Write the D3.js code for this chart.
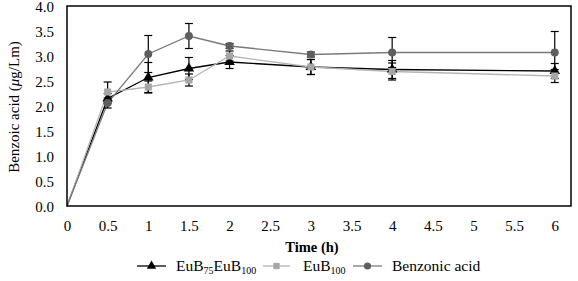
<!DOCTYPE html>
<html>
<head>
<meta charset="utf-8">
<script src="https://cdn.jsdelivr.net/npm/d3@7"></script>
<style>
  body { margin: 0; background: #fff; }
</style>
</head>
<body>
<div id="chart"></div>
<script>
var times = [0, 0.5, 1, 1.5, 2, 3, 4, 6];
var eubMix = [0, 2.15, 2.57, 2.75, 2.88, 2.78, 2.73, 2.7];
var eubMixErr = [0, 0.1, 0.3, 0.22, 0.13, 0.15, 0.18, 0.15];
var eub100 = [0, 2.28, 2.38, 2.52, 3.0, 2.78, 2.69, 2.6];
var eub100Err = [0, 0.2, 0.12, 0.12, 0.1, 0.15, 0.17, 0.13];
var benzoic = [0, 2.06, 3.04, 3.4, 3.2, 3.03, 3.07, 3.07];
var benzoicErr = [0, 0.1, 0.37, 0.25, 0.05, 0.05, 0.3, 0.42];
var xTicks = [0, 0.5, 1, 1.5, 2, 2.5, 3, 3.5, 4, 4.5, 5, 5.5, 6];
var yTicks = [0, 0.5, 1, 1.5, 2, 2.5, 3, 3.5, 4];

var FONT = "'Liberation Serif', 'Times New Roman', serif";

function init() {
    var margin = {top: 6, right: 7, bottom: 75, left: 67},
        w = 578 - margin.left - margin.right,
        h = 281 - margin.top - margin.bottom;

    var svg = d3.select("#chart")
        .append("svg")
        .attr("width", 578)
        .attr("height", 281)
        .attr("font-family", FONT);

    var g = svg.append("g")
        .attr("transform", `translate(${margin.left}, ${margin.top})`);

    var xScale = d3.scaleLinear().domain([0, 6.2]).range([0, w]);
    var yScale = d3.scaleLinear().domain([0, 4]).range([h, 0]);

    var series = [
        {name: "mix", vals: eubMix, err: eubMixErr, line: "#000", fill: "#000", shape: d3.symbolTriangle, size: 48},
        {name: "eub100", vals: eub100, err: eub100Err, line: "#b4b4b4", fill: "#a6a6a6", shape: d3.symbolSquare, size: 50},
        {name: "benzoic", vals: benzoic, err: benzoicErr, line: "#7a7a7a", fill: "#5e5e5e", shape: d3.symbolCircle, size: 50}
    ];

    // x tick labels
    g.append("g")
        .attr("transform", `translate(0, ${h})`)
        .call(d3.axisBottom(xScale).tickValues(xTicks).tickSize(0).tickPadding(14).tickFormat(d3.format("")))
        .attr("font-family", FONT)
        .call(a => a.select(".domain").remove())
        .selectAll("text").attr("font-size", 15).attr("fill", "#000");

    g.append("g")
        .call(d3.axisLeft(yScale).tickValues(yTicks).tickSize(0).tickPadding(13).tickFormat(d3.format(".1f")))
        .attr("font-family", FONT)
        .call(a => a.select(".domain").remove())
        .selectAll("text").attr("font-size", 15).attr("fill", "#000").attr("dy", "0.35em");

    var line = d3.line()
        .x((d, i) => xScale(times[i]))
        .y(d => yScale(d));

    series.forEach(function(s) {
        g.append("path")
            .datum(s.vals)
            .attr("d", line)
            .attr("fill", "none")
            .attr("stroke", s.line)
            .attr("stroke-width", 1.3);
    });

    // error bars
    series.forEach(function(s) {
        var eb = g.append("g");
        s.vals.forEach(function(v, i) {
            if (!s.err[i]) return;
            var x = xScale(times[i]);
            var y1 = yScale(v + s.err[i]), y2 = yScale(v - s.err[i]);
            eb.append("line").attr("x1", x).attr("x2", x).attr("y1", y1).attr("y2", y2)
                .attr("stroke", "#000").attr("stroke-width", 1.2);
            [y1, y2].forEach(function(y) {
                eb.append("line").attr("x1", x - 4).attr("x2", x + 4).attr("y1", y).attr("y2", y)
                    .attr("stroke", "#000").attr("stroke-width", 1.2);
            });
        });
    });

    series.forEach(function(s) {
        g.selectAll(".m-" + s.name)
            .data(s.vals.slice(1))
            .enter().append("path")
            .attr("transform", (d, i) => `translate(${xScale(times[i + 1])}, ${yScale(d)})`)
            .attr("d", d3.symbol().type(s.shape).size(s.size))
            .attr("fill", s.fill);
    });

    // frame
    g.append("rect")
        .attr("width", w).attr("height", h)
        .attr("fill", "none").attr("stroke", "#000").attr("stroke-width", 1.5);

    svg.append("text")
        .attr("x", 312).attr("y", 252)
        .attr("text-anchor", "middle")
        .attr("font-size", 14.5).attr("font-weight", "bold")
        .text("Time (h)");

    var yl = svg.append("text")
        .attr("transform", "translate(19, 107) rotate(-90)")
        .attr("text-anchor", "middle")
        .attr("font-size", 15);
    yl.append("tspan").text("Benzoic acid (");
    yl.append("tspan").attr("font-style", "italic").text("\u03bc");
    yl.append("tspan").text("g/Lm)");

    // legend
    var leg = svg.append("g");
    var items = [
        {s: series[0], x1: 137, x2: 166, tx: 176, label: ["EuB", "75", "EuB", "100"]},
        {s: series[1], x1: 263, x2: 290, tx: 303, label: ["EuB", "100"]},
        {s: series[2], x1: 353, x2: 382, tx: 392, label: ["Benzonic acid"]}
    ];
    items.forEach(function(it) {
        var ly = 266;
        leg.append("line").attr("x1", it.x1).attr("x2", it.x2).attr("y1", ly).attr("y2", ly)
            .attr("stroke", it.s.line).attr("stroke-width", 1.3);
        leg.append("path")
            .attr("transform", `translate(${(it.x1 + it.x2) / 2}, ${ly})`)
            .attr("d", d3.symbol().type(it.s.shape).size(it.s.size * 0.8))
            .attr("fill", it.s.fill);
        var t = leg.append("text").attr("x", it.tx).attr("y", 271).attr("font-size", 15.5);
        it.label.forEach(function(part, k) {
            var sub = k % 2 === 1;
            t.append("tspan")
                .attr("dy", sub ? 3 : (k > 0 ? -3 : 0))
                .attr("font-size", sub ? 10 : 15.5)
                .text(part);
        });
    });
}

window.onload = init;
</script>
</body>
</html>
